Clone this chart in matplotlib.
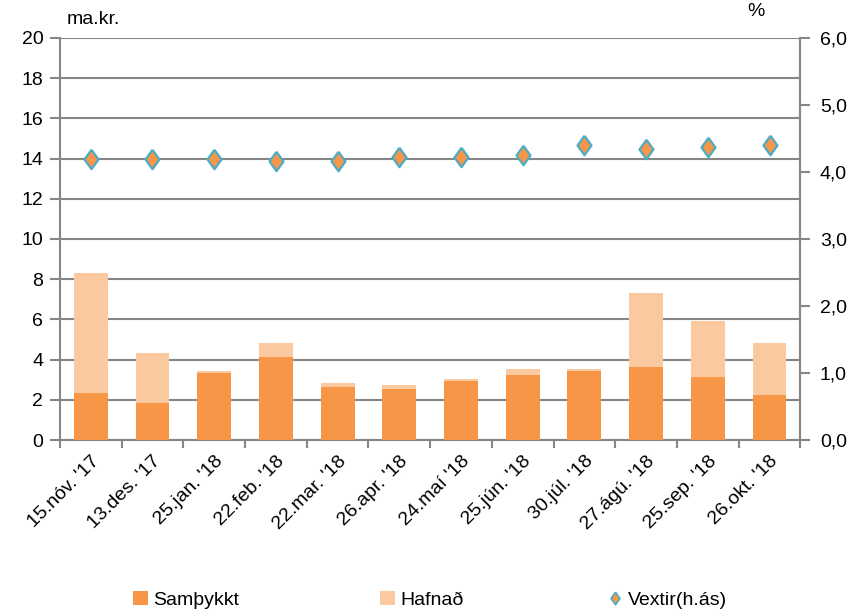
import matplotlib
matplotlib.use("Agg")
import matplotlib.pyplot as plt
import numpy as np
from matplotlib.lines import Line2D
from matplotlib.patches import Patch

plt.rcParams['font.family'] = ['Liberation Sans', 'DejaVu Sans']

categories = ["15.nóv. '17", "13.des. '17", "25.jan. '18", "22.feb. '18", "22.mar. '18",
              "26.apr. '18", "24.maí '18", "25.jún. '18", "30.júl. '18", "27.ágú. '18",
              "25.sep. '18", "26.okt. '18"]
samthykkt = [2.35, 1.86, 3.35, 4.13, 2.64, 2.54, 2.94, 3.23, 3.43, 3.63, 3.13, 2.24]
total = [8.29, 4.31, 3.43, 4.83, 2.84, 2.74, 3.04, 3.53, 3.53, 7.30, 5.92, 4.83]
hafnad = [t - s for t, s in zip(total, samthykkt)]
vextir = [4.20, 4.20, 4.20, 4.16, 4.16, 4.22, 4.22, 4.26, 4.40, 4.34, 4.37, 4.40]

c_app = '#F79646'
c_rej = '#FAC9A0'
c_grid = '#868686'
c_edge = '#4BACC6'
fs = 14

diamond = [(0, 1), (0.72, 0), (0, -1), (-0.72, 0), (0, 1)]

fig = plt.figure(figsize=(8.56, 6.12), dpi=100)
ax = fig.add_axes([0.070, 0.281, 0.865, 0.657])
x = np.arange(len(categories))
ax.bar(x, samthykkt, width=0.55, color=c_app, zorder=3)
ax.bar(x, hafnad, bottom=samthykkt, width=0.55, color=c_rej, zorder=3)
ax.set_xlim(-0.5, len(categories) - 0.5)
ax.set_ylim(0, 20)
ax.set_yticks(range(0, 21, 2))
ax.yaxis.grid(True, color=c_grid, linewidth=1.5, zorder=0)
ax.set_axisbelow(True)
ax.set_xticks(x)
ax.set_xticklabels(categories, rotation=45, ha='right', rotation_mode='anchor', fontsize=fs)
ax.set_xticks(np.arange(-0.5, len(categories), 1), minor=True)
ax.tick_params(axis='x', which='major', length=0, pad=9)
ax.tick_params(axis='x', which='minor', length=6, width=1.5, color=c_grid, direction='out')
ax.tick_params(axis='y', length=7, width=1.5, color=c_grid, labelsize=fs, pad=5)
ax.spines['top'].set_visible(False)
for s in ['left', 'bottom', 'right']:
    ax.spines[s].set_color(c_grid)
    ax.spines[s].set_linewidth(1.5)

ax2 = ax.twinx()
ax2.plot(x, vextir, linestyle='none', marker=diamond, markersize=14, markerfacecolor=c_app,
         markeredgecolor=c_edge, markeredgewidth=1.6, zorder=5)
ax2.set_ylim(0, 6)
ax2.set_yticks(np.arange(0, 6.01, 1))
ax2.set_yticklabels([f"{v:.1f}".replace('.', ',') for v in np.arange(0, 6.01, 1)])
ax2.tick_params(axis='y', length=7, width=1.5, color=c_grid, labelsize=fs, pad=7)
for s in ['top', 'left', 'bottom']:
    ax2.spines[s].set_visible(False)
ax2.spines['right'].set_color(c_grid)
ax2.spines['right'].set_linewidth(1.5)

fig.text(0.078, 0.968, "ma.kr.", fontsize=fs, ha='left', va='center')
fig.text(0.873, 0.982, "%", fontsize=fs, ha='left', va='center')

handles = [Patch(facecolor=c_app, edgecolor='none'),
           Patch(facecolor=c_rej, edgecolor='none'),
           Line2D([], [], linestyle='none', marker=diamond, markersize=9, markerfacecolor=c_app,
                  markeredgecolor=c_edge, markeredgewidth=1.2)]
labels = ["Samþykkt", "Hafnað", "Vextir(h.ás)"]
xpos = [0.152, 0.441, 0.706]
for h, l, xp in zip(handles, labels, xpos):
    fig.legend([h], [l], loc='lower left', bbox_to_anchor=(xp, 0.0), frameon=False,
               fontsize=fs, handlelength=0.75, handleheight=0.75, handletextpad=0.3,
               borderpad=0.15, borderaxespad=0)

fig.savefig("out.png", dpi=100)
